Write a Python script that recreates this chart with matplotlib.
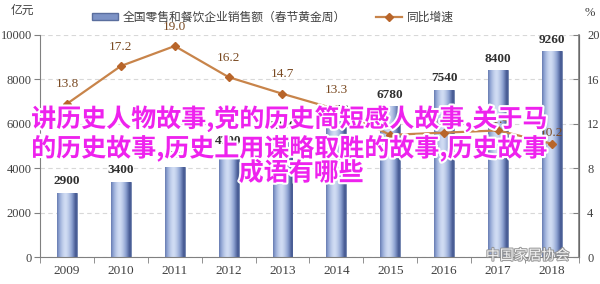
import numpy as np
import matplotlib
matplotlib.use('Agg')
import matplotlib.pyplot as plt
import matplotlib.patheffects as pe
from matplotlib.colors import LinearSegmentedColormap
from matplotlib.lines import Line2D
from matplotlib.patches import Patch

plt.rcParams['font.family'] = ['Noto Sans CJK SC', 'DejaVu Sans']

# data
years = ['2009', '2010', '2011', '2012', '2013', '2014', '2015', '2016', '2017', '2018']
sales = [2900, 3400, 4045, 4700, 5390, 6113, 6780, 7540, 8400, 9260]   # 亿元
growth = [13.8, 17.2, 19.0, 16.2, 14.7, 13.3, 11.0, 11.2, 11.4, 10.2]  # %
left_ticks = [0, 2000, 4000, 6000, 8000, 10000]
right_ticks = [0, 4, 8, 12, 16, 20]

bar_name = '全国零售和餐饮企业销售额（春节黄金周）'
line_name = '同比增速'
overlay = ['讲历史人物故事,党的历史简短感人故事,关于马',
           '的历史故事,历史上用谋略取胜的故事,历史故事',
           '成语有哪些']

serif = 'Liberation Serif'
axis_col = '#808080'
txt_col = '#404040'
line_col = '#c8844a'
lab_col = '#7a4a22'

fig = plt.figure(figsize=(6, 2.84), dpi=100)
ax = fig.add_axes([0.0667, 0.095, 0.898, 0.782])
ax2 = ax.twinx()

x = np.arange(len(years))
w = 0.37
bars = ax.bar(x, sales, width=w, color='#7d93c6', edgecolor='#5a6e9e', linewidth=0.5, zorder=2)

# horizontal gradient inside each bar
cmap = LinearSegmentedColormap.from_list('bar', ['#4a5e96', '#8ba0d0', '#d0dcf3'])
t = np.linspace(-1, 1, 80)
grad = (1 - np.abs(t + 0.15) ** 1.6).reshape(1, -1)
for xi, val, b in zip(x, sales, bars):
    im = ax.imshow(grad, extent=[xi - w / 2, xi + w / 2, 0, val], aspect='auto',
                   cmap=cmap, vmin=0, vmax=1, zorder=2.1)
    im.set_clip_path(b)
    ax.text(xi, val + 250, str(val), ha='center', va='bottom', fontsize=9.5,
            family=serif, fontweight='bold', color='#303030', zorder=3)

ax.set_xlim(-0.5, len(years) - 0.5)
ax.set_ylim(0, 10000)
ax.set_yticks(left_ticks)
ax.set_yticklabels([str(v) for v in left_ticks], family=serif, fontsize=9, color=txt_col)
ax.set_xticks(x)
ax.set_xticklabels(years, family=serif, fontsize=9.5, color=txt_col)
ax.set_xticks(np.arange(len(years) + 1) - 0.5, minor=True)
ax.tick_params(axis='x', which='major', length=0, pad=6)
ax.tick_params(axis='x', which='minor', length=4, color=axis_col)
ax.tick_params(axis='y', length=4, color=axis_col, pad=2)
ax.grid(axis='y', linestyle=(0, (4, 3)), color='#d8d8d8', linewidth=0.8, zorder=0)
ax.set_axisbelow(True)
for s in ['left', 'bottom']:
    ax.spines[s].set_color(axis_col)
ax.spines['top'].set_visible(False)

ax2.plot(x, growth, color=line_col, linewidth=1.6, marker='D', markersize=4,
         markerfacecolor='#b8652a', markeredgecolor='#b8652a', zorder=4)
for xi, g in zip(x, growth):
    dy = 1.2 if g > 12 else 0.4
    ax2.text(xi, g + dy, f'{g:.1f}', ha='center', va='bottom', fontsize=9.5,
             family=serif, color=lab_col, zorder=5)
ax2.set_ylim(0, 20)
ax2.set_yticks(right_ticks)
ax2.set_yticklabels([str(v) for v in right_ticks], family=serif, fontsize=9, color=txt_col)
ax2.tick_params(axis='y', length=4, color=axis_col, direction='in', pad=6)
ax2.spines['right'].set_color(axis_col)
ax2.spines['right'].set_linewidth(1.2)
ax2.spines['top'].set_visible(False)
ax2.spines['left'].set_visible(False)
ax2.spines['bottom'].set_visible(False)

# units and legend
fig.text(0.017, 0.965, '亿元', fontsize=8.5, color=txt_col, va='center')
fig.text(0.975, 0.955, '%', fontsize=9, color=txt_col, va='center', family=serif)
handles = [Patch(facecolor='#7d93c6', edgecolor='#5a6e9e'),
           Line2D([0], [0], color=line_col, linewidth=1.6, marker='D', markersize=4,
                  markerfacecolor='#b8652a', markeredgecolor='#b8652a')]
fig.legend(handles, [bar_name, line_name], loc='center', bbox_to_anchor=(0.455, 0.94),
           ncol=2, frameon=False, fontsize=8.5, labelcolor=txt_col,
           handlelength=2.2, handleheight=0.6, columnspacing=2.5, handletextpad=0.4)

# overlay caption
stroke = [pe.withStroke(linewidth=3, foreground='white')]
for yy, line in zip([0.582, 0.478, 0.39], overlay):
    fig.text(0.482 if line != overlay[2] else 0.502, yy, line, ha='center', va='center',
             fontsize=18, fontweight='bold', color='#ee22ee', path_effects=stroke, zorder=10)

# watermark
fig.text(0.81, 0.1, '中国家居协会', fontsize=10, color='white', va='center',
         path_effects=[pe.withStroke(linewidth=1.5, foreground='#909090')], alpha=0.9, zorder=10)

fig.savefig('out.png', dpi=100)
